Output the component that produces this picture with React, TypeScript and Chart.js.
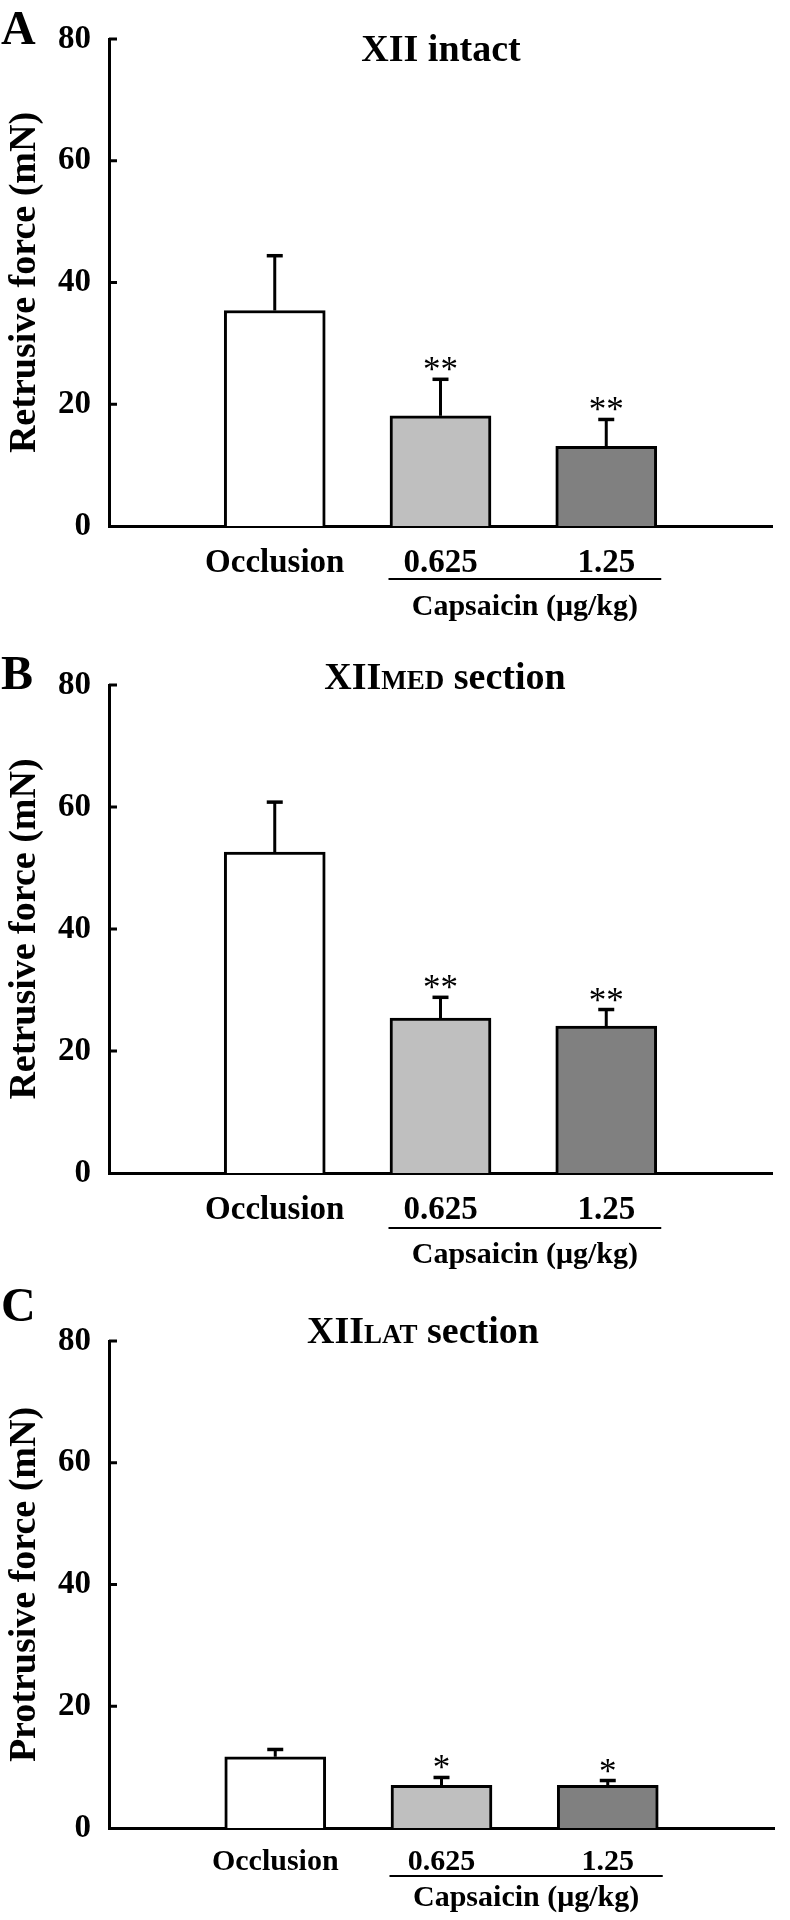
import React, { useEffect, useRef } from "react";
import { Chart, registerables } from "chart.js";

Chart.register(...registerables);

// ---------- data ----------
const categories = ["Occlusion", "0.625", "1.25"];
const groupLabel = "Capsaicin (\u03bcg/kg)";
const yTicks = [0, 20, 40, 60, 80];

const meanA = [35.4, 18.1, 13.1];
const semA = [9.0, 6.0, 4.4];
const sigA = ["", "**", "**"];

const meanB = [52.6, 25.4, 24.1];
const semB = [8.2, 3.4, 2.7];
const sigB = ["", "**", "**"];

const meanC = [11.7, 7.0, 7.0];
const semC = [1.2, 1.3, 0.8];
const sigC = ["", "*", "*"];

const barColors = ["#ffffff", "#bfbfbf", "#808080"];

const SERIF = "'Liberation Serif', 'Times New Roman', serif";

type Panel = {
  letter: string;
  letterBaseline: number;
  titleParts: { text: string; size: number }[];
  titleCx: number;
  titleBaseline: number;
  yTitle: string;
  means: number[];
  sems: number[];
  sig: string[];
  top: number;
  bottom: number;
  xFont: number;
  xPad: number;
  bracketDy: number;
  capDy: number;
};

const panels: Panel[] = [
  {
    letter: "A",
    letterBaseline: 44,
    titleParts: [{ text: "XII intact", size: 38 }],
    titleCx: 441,
    titleBaseline: 61,
    yTitle: "Retrusive force (mN)",
    means: meanA,
    sems: semA,
    sig: sigA,
    top: 39,
    bottom: 526,
    xFont: 33,
    xPad: 18,
    bracketDy: 53,
    capDy: 89,
  },
  {
    letter: "B",
    letterBaseline: 49,
    titleParts: [
      { text: "XII", size: 38 },
      { text: "MED", size: 27 },
      { text: " section", size: 38 },
    ],
    titleCx: 445,
    titleBaseline: 49,
    yTitle: "Retrusive force (mN)",
    means: meanB,
    sems: semB,
    sig: sigB,
    top: 45,
    bottom: 533,
    xFont: 33,
    xPad: 18,
    bracketDy: 55,
    capDy: 90,
  },
  {
    letter: "C",
    letterBaseline: 41,
    titleParts: [
      { text: "XII", size: 38 },
      { text: "LAT", size: 27 },
      { text: " section", size: 38 },
    ],
    titleCx: 423,
    titleBaseline: 63,
    yTitle: "Protrusive force (mN)",
    means: meanC,
    sems: semC,
    sig: sigC,
    top: 61,
    bottom: 548,
    xFont: 30,
    xPad: 16,
    bracketDy: 48,
    capDy: 78,
  },
];

const W = 790;
const H = 640;
const AXIS_X = 109;

function makePlugin(p: Panel) {
  return {
    id: "decor" + p.letter,
    afterDraw(chart: any) {
      const ctx = chart.ctx as CanvasRenderingContext2D;
      const xs = chart.scales.x;
      const ys = chart.scales.y;
      const area = chart.chartArea;
      ctx.save();
      ctx.strokeStyle = "#000";
      ctx.fillStyle = "#000";
      ctx.lineCap = "butt";

      // inward y ticks
      ctx.lineWidth = 3;
      yTicks.forEach((v) => {
        if (v === 0) return;
        const y = ys.getPixelForValue(v);
        ctx.beginPath();
        ctx.moveTo(area.left, y);
        ctx.lineTo(area.left + 8, y);
        ctx.stroke();
      });

      // error bars + significance
      p.means.forEach((m, i) => {
        const x = xs.getPixelForValue(i + 1);
        const yTop = ys.getPixelForValue(m);
        const yErr = ys.getPixelForValue(m + p.sems[i]);
        ctx.lineWidth = 3;
        ctx.beginPath();
        ctx.moveTo(x, yTop);
        ctx.lineTo(x, yErr);
        ctx.stroke();
        ctx.lineWidth = 3.5;
        ctx.beginPath();
        ctx.moveTo(x - 8, yErr);
        ctx.lineTo(x + 8, yErr);
        ctx.stroke();
        if (p.sig[i]) {
          ctx.font = `35px ${SERIF}`;
          ctx.textAlign = "center";
          ctx.textBaseline = "alphabetic";
          ctx.fillText(p.sig[i], x, yErr + 2);
        }
      });

      // bracket and group label
      const x1 = xs.getPixelForValue(2) - 52;
      const x2 = xs.getPixelForValue(3) + 55;
      const yb = area.bottom + p.bracketDy;
      ctx.lineWidth = 2;
      ctx.beginPath();
      ctx.moveTo(x1, yb);
      ctx.lineTo(x2, yb);
      ctx.stroke();
      ctx.font = `bold 30px ${SERIF}`;
      ctx.textAlign = "center";
      ctx.textBaseline = "alphabetic";
      ctx.fillText(groupLabel, (x1 + x2) / 2, area.bottom + p.capDy);

      // title with small caps parts
      ctx.textAlign = "left";
      let total = 0;
      p.titleParts.forEach((t) => {
        ctx.font = `bold ${t.size}px ${SERIF}`;
        total += ctx.measureText(t.text).width;
      });
      let tx = p.titleCx - total / 2;
      p.titleParts.forEach((t) => {
        ctx.font = `bold ${t.size}px ${SERIF}`;
        ctx.fillText(t.text, tx, p.titleBaseline);
        tx += ctx.measureText(t.text).width;
      });

      // panel letter
      ctx.font = `bold 48px ${SERIF}`;
      ctx.fillText(p.letter, 1, p.letterBaseline);
      ctx.restore();
    },
  };
}

function makeConfig(p: Panel): any {
  const labels = ["", ...categories, ""];
  const data = [null, ...p.means, null];
  return {
    type: "bar",
    data: {
      labels,
      datasets: [
        {
          data,
          backgroundColor: ["#ffffff", ...barColors, "#ffffff"],
          borderColor: "#000000",
          borderWidth: 3,
          barThickness: 101,
        },
      ],
    },
    options: {
      animation: false,
      responsive: false,
      devicePixelRatio: 1,
      layout: { padding: { top: p.top, left: 0, right: 1, bottom: 0 } },
      plugins: {
        legend: { display: false },
        tooltip: { enabled: false },
        title: { display: false },
      },
      scales: {
        x: {
          type: "category",
          offset: false,
          grid: { display: false, drawTicks: false },
          border: { display: true, color: "#000", width: 3 },
          ticks: {
            color: "#000",
            font: { family: SERIF, size: p.xFont, weight: "bold" },
            padding: p.xPad,
            autoSkip: false,
            maxRotation: 0,
            minRotation: 0,
          },
          afterFit: (s: any) => {
            s.height = H - p.bottom;
          },
        },
        y: {
          min: 0,
          max: 80,
          afterBuildTicks: (s: any) => {
            s.ticks = yTicks.map((v) => ({ value: v }));
          },
          grid: { display: false, drawTicks: false },
          border: { display: true, color: "#000", width: 3 },
          ticks: {
            color: "#000",
            font: { family: SERIF, size: 33, weight: "bold" },
            padding: 18,
          },
          title: {
            display: true,
            text: p.yTitle,
            color: "#000",
            font: { family: SERIF, size: 38, weight: "bold" },
            padding: { top: 2, bottom: 0 },
          },
          afterFit: (s: any) => {
            s.width = AXIS_X;
          },
        },
      },
    },
    plugins: [makePlugin(p)],
  };
}

function PanelChart({ p }: { p: Panel }) {
  const ref = useRef<HTMLCanvasElement | null>(null);
  useEffect(() => {
    if (!ref.current) return;
    const chart = new Chart(ref.current, makeConfig(p));
    return () => chart.destroy();
  }, [p]);
  return (
    <canvas
      ref={ref}
      width={W}
      height={H}
      style={{ display: "block", width: W, height: H }}
    />
  );
}

export default function App() {
  useEffect(() => {
    document.body.style.margin = "0";
    document.body.style.background = "#fff";
  }, []);
  return (
    <div style={{ width: W, background: "#fff" }}>
      {panels.map((p) => (
        <PanelChart key={p.letter} p={p} />
      ))}
    </div>
  );
}
